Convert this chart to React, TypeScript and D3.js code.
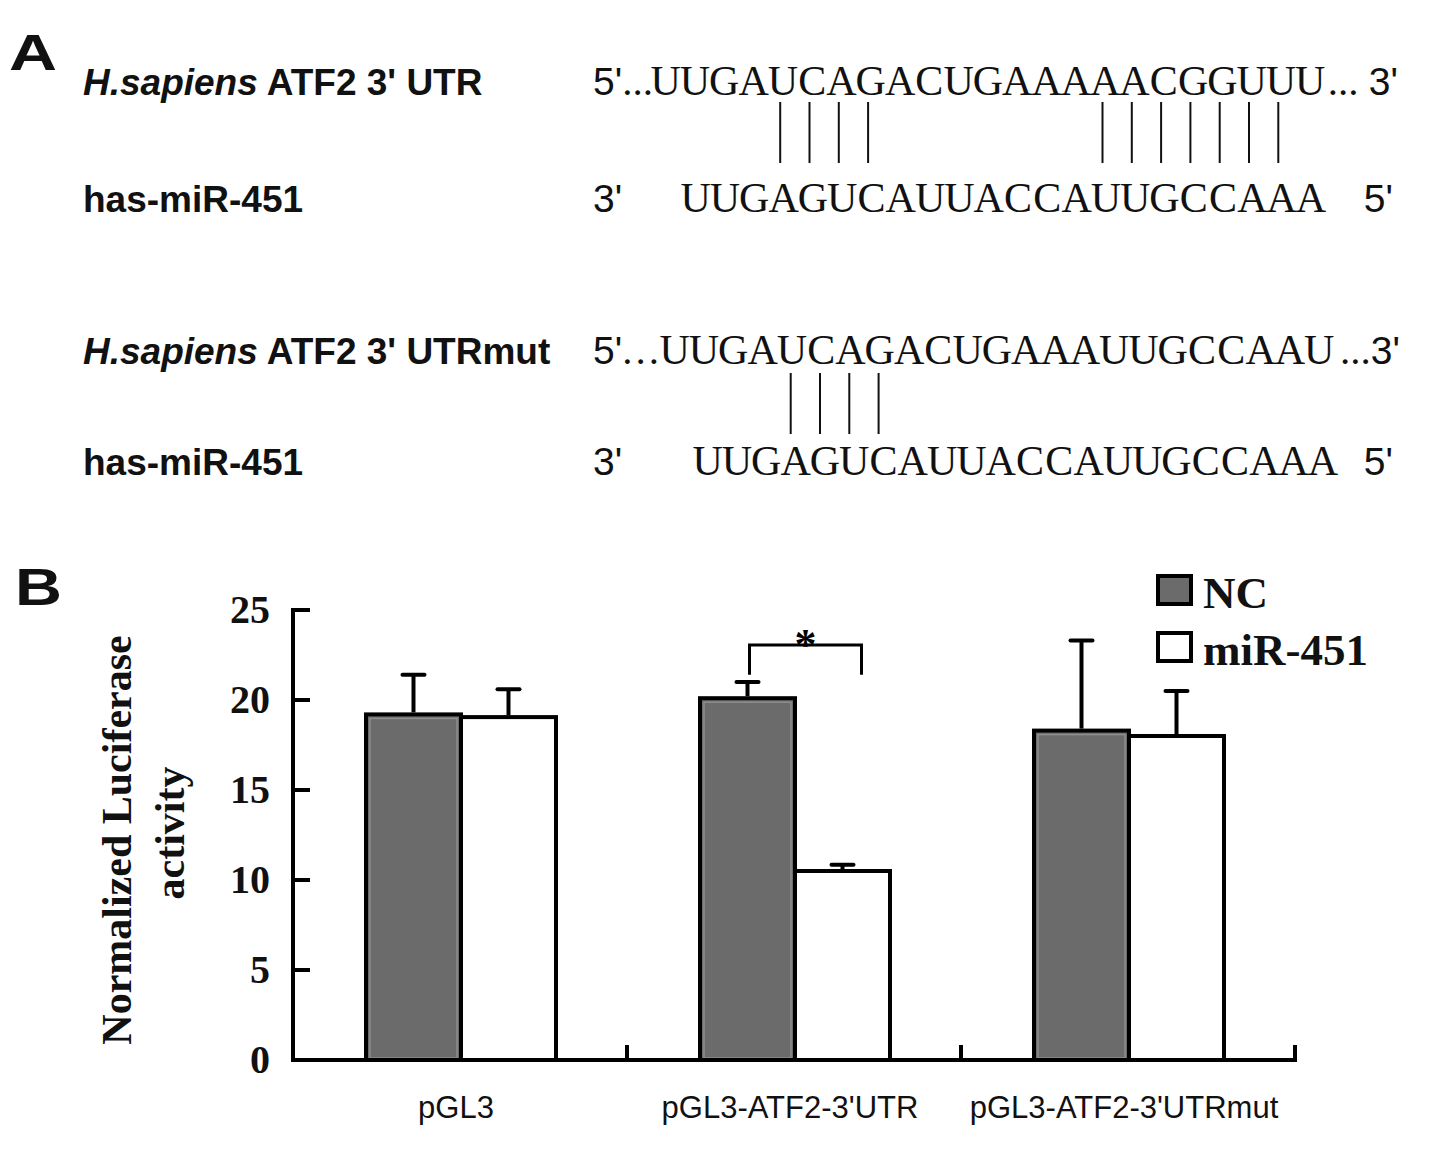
import React from "react";
import * as d3 from "d3";

// ---------- data ----------
const categories = ["pGL3", "pGL3-ATF2-3'UTR", "pGL3-ATF2-3'UTRmut"];
const seriesNames = ["NC", "miR-451"];
const ncValues = [19.2, 20.1, 18.3];
const ncErrors = [2.2, 0.9, 5.0];
const mirValues = [19.05, 10.5, 18.0];
const mirErrors = [1.55, 0.35, 2.5];
const yTicks = [0, 5, 10, 15, 20, 25];
const sigGroup = "pGL3-ATF2-3'UTR";
const sigLabel = "*";
const sigBracketTop = 23.05;
const sigBracketBottom = 21.4;

const utrSeq = "UUGAUCAGACUGAAAAACGGUUU";
const utrMutSeq = "UUGAUCAGACUGAAAUUGCCAAU";
const mirSeq = "UUGAGUCAUUACCAUUGCCAAA";
// [index in UTR, index in miRNA]
const wtPairs = [[4, 3], [5, 4], [6, 5], [7, 6], [15, 14], [16, 15], [17, 16], [18, 17], [19, 18], [20, 19], [21, 20]];
const mutPairs = [[4, 3], [5, 4], [6, 5], [7, 6]];

// ---------- style ----------
const SANS = "'Liberation Sans', Arial, Helvetica, sans-serif";
const SERIF = "'Liberation Serif', 'Times New Roman', Times, serif";
const NC_FILL = "#6b6b6b";

function Alignment(props: any) {
  const { labelRest, topSeq, topStart, bottomStart, topBase, bottomBase, pairs, lineTop, lineBottom, endText, endX, dotSpacing } = props;
  const pitch = 29.3;
  const topX = d3.scaleLinear().domain([0, 1]).range([topStart, topStart + pitch]);
  const botX = d3.scaleLinear().domain([0, 1]).range([bottomStart, bottomStart + pitch]);
  return (
    <g>
      <text x={83} y={topBase} fontFamily={SANS} fontWeight="bold" fontSize={37} fill="#111">
        <tspan fontStyle="italic">H.sapiens</tspan>
        <tspan>{labelRest}</tspan>
      </text>
      <text x={83} y={bottomBase} fontFamily={SANS} fontWeight="bold" fontSize={37} fill="#111">has-miR-451</text>

      {/* top strand */}
      <text x={593} y={topBase} fill="#111">
        <tspan fontFamily={SANS} fontSize={39}>5'</tspan>
        <tspan fontFamily={SERIF} fontSize={41} letterSpacing={dotSpacing}>...</tspan>
      </text>
      {topSeq.split("").map((c: string, i: number) => (
        <text key={"t" + i} x={topX(i + 0.5)} y={topBase} textAnchor="middle" fontFamily={SERIF} fontSize={42} fill="#111">{c}</text>
      ))}
      <text x={endX} y={topBase} textAnchor="end" fill="#111">
        <tspan fontFamily={SERIF} fontSize={41}>{endText}</tspan>
        <tspan fontFamily={SANS} fontSize={39}>3'</tspan>
      </text>

      {/* pairing lines */}
      {pairs.map((p: number[], k: number) => {
        const x = (topX(p[0] + 0.5) + botX(p[1] + 0.5)) / 2 - 3;
        return <line key={"l" + k} x1={x} x2={x} y1={lineTop} y2={lineBottom} stroke="#111" strokeWidth={2} />;
      })}

      {/* miRNA strand */}
      <text x={593} y={bottomBase} fontFamily={SANS} fontSize={39} fill="#111">3'</text>
      {mirSeq.split("").map((c: string, i: number) => (
        <text key={"b" + i} x={botX(i + 0.5)} y={bottomBase} textAnchor="middle" fontFamily={SERIF} fontSize={42} fill="#111">{c}</text>
      ))}
      <text x={1393} y={bottomBase} textAnchor="end" fontFamily={SANS} fontSize={39} fill="#111">5'</text>
    </g>
  );
}

function BarChart() {
  const x0 = d3.scaleBand().domain(categories).range([293, 1295]).padding(0);
  const x1 = d3.scaleBand().domain(seriesNames).range([73, 263]).padding(0);
  const y = d3.scaleLinear().domain([0, 25]).range([1060, 610]);
  const series = [
    { name: "NC", values: ncValues, errors: ncErrors, fill: NC_FILL },
    { name: "miR-451", values: mirValues, errors: mirErrors, fill: "#ffffff" },
  ];
  const bw = x1.bandwidth();
  const capW = 22;

  const sigLeft = (x0(sigGroup) as number) + (x1("NC") as number) + bw / 2 + 2;
  const sigRight = (x0(sigGroup) as number) + (x1("miR-451") as number) + bw * 0.7;

  return (
    <g>
      {/* bars */}
      {series.map((s) =>
        categories.map((c, i) => {
          const bx = (x0(c) as number) + (x1(s.name) as number);
          const by = y(s.values[i]);
          return (
            <g key={s.name + c}>
              <rect x={bx} y={by} width={bw} height={y(0) - by} fill={s.fill} stroke="#000" strokeWidth={4} />
              {s.name === "NC" && (
                <rect x={bx + 4} y={by + 4} width={bw - 8} height={y(0) - by - 6} fill="none" stroke="#8e8e8e" strokeWidth={1.5} />
              )}
            </g>
          );
        })
      )}
      {/* error bars */}
      {series.map((s) =>
        categories.map((c, i) => {
          const cx = (x0(c) as number) + (x1(s.name) as number) + bw / 2;
          const top = y(s.values[i] + s.errors[i]);
          return (
            <g key={"e" + s.name + c} stroke="#000" strokeWidth={4}>
              <line x1={cx} x2={cx} y1={y(s.values[i]) - 2} y2={top} />
              <line x1={cx - capW / 2} x2={cx + capW / 2} y1={top} y2={top} strokeLinecap="round" />
            </g>
          );
        })
      )}

      {/* axes */}
      <line x1={293} x2={293} y1={y(25) - 2} y2={y(0) + 2} stroke="#000" strokeWidth={4} />
      <line x1={291} x2={1297} y1={y(0)} y2={y(0)} stroke="#000" strokeWidth={4} />
      {yTicks.map((t) => (
        <g key={"yt" + t}>
          <line x1={293} x2={310} y1={y(t)} y2={y(t)} stroke="#000" strokeWidth={4} />
          <text x={270} y={y(t) + 13} textAnchor="end" fontFamily={SERIF} fontWeight="bold" fontSize={40} fill="#111">{t}</text>
        </g>
      ))}
      {categories.map((c) => {
        const tx = (x0(c) as number) + x0.bandwidth();
        return <line key={"xt" + c} x1={tx} x2={tx} y1={y(0)} y2={y(0) - 15} stroke="#000" strokeWidth={4} />;
      })}
      {categories.map((c) => (
        <text key={"xl" + c} x={(x0(c) as number) + x0.bandwidth() / 2 - 4} y={1118} textAnchor="middle" fontFamily={SANS} fontSize={31} fill="#111">{c}</text>
      ))}

      {/* y title */}
      <g transform="translate(131,840) rotate(-90)">
        <text x={0} y={0} textAnchor="middle" fontFamily={SERIF} fontWeight="bold" fontSize={42} fill="#111">Normalized Luciferase</text>
      </g>
      <g transform="translate(184,833) rotate(-90)">
        <text x={0} y={0} textAnchor="middle" fontFamily={SERIF} fontWeight="bold" fontSize={42} fill="#111">activity</text>
      </g>

      {/* significance */}
      <path
        d={`M${sigLeft},${y(sigBracketBottom)}V${y(sigBracketTop)}H${sigRight}V${y(sigBracketBottom)}`}
        fill="none" stroke="#000" strokeWidth={3}
      />
      <text x={(sigLeft + sigRight) / 2} y={y(sigBracketTop) + 14} textAnchor="middle" fontFamily={SERIF} fontWeight="bold" fontSize={44} fill="#000">{sigLabel}</text>

      {/* legend */}
      {series.map((s, i) => (
        <g key={"lg" + s.name}>
          <rect x={1158} y={576 + i * 57} width={33} height={28} fill={s.fill} stroke="#000" strokeWidth={4} />
          <text x={1203} y={608 + i * 57} fontFamily={SERIF} fontWeight="bold" fontSize={45} fill="#111">{s.name}</text>
        </g>
      ))}
    </g>
  );
}

export default function App() {
  return (
    <svg
      width={1429}
      height={1163}
      viewBox="0 0 1429 1163"
      style={{ position: "absolute", left: 0, top: 0, display: "block", background: "#fff" }}
    >
      <rect x={0} y={0} width={1429} height={1163} fill="#fff" />
      <text x={9} y={70} fontFamily={SANS} fontWeight="bold" fontSize={50} textLength={48} lengthAdjust="spacingAndGlyphs" fill="#111">A</text>
      <text x={15} y={605} fontFamily={SANS} fontWeight="bold" fontSize={52} textLength={47} lengthAdjust="spacingAndGlyphs" fill="#111">B</text>

      <Alignment
        labelRest=" ATF2 3' UTR"
        topSeq={utrSeq}
        topStart={651}
        bottomStart={681}
        topBase={95}
        bottomBase={212}
        pairs={wtPairs}
        lineTop={102}
        lineBottom={163}
        endText="... "
        endX={1398}
        dotSpacing={0}
      />
      <Alignment
        labelRest=" ATF2 3' UTRmut"
        topSeq={utrMutSeq}
        topStart={660}
        bottomStart={693}
        topBase={364}
        bottomBase={475}
        pairs={mutPairs}
        lineTop={373}
        lineBottom={434}
        endText="..."
        endX={1400}
        dotSpacing={3}
      />

      <BarChart />
    </svg>
  );
}
